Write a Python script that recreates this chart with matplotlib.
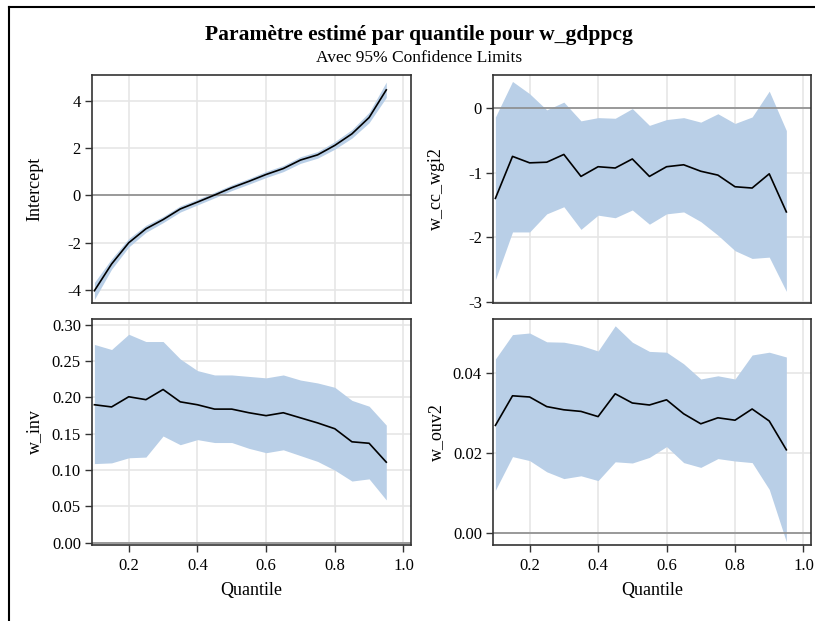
import matplotlib
matplotlib.use("Agg")
import matplotlib.pyplot as plt
from matplotlib.lines import Line2D
import numpy as np

matplotlib.rcParams['font.family'] = ['Liberation Serif', 'DejaVu Serif']

# quantiles
quantile = [0.10, 0.15, 0.20, 0.25, 0.30, 0.35, 0.40, 0.45, 0.50,
            0.55, 0.60, 0.65, 0.70, 0.75, 0.80, 0.85, 0.90, 0.95]

# Intercept
intercept = [-4.03, -2.90, -2.00, -1.41, -1.02, -0.57, -0.28, 0.02, 0.33,
             0.60, 0.89, 1.14, 1.50, 1.72, 2.12, 2.61, 3.30, 4.47]
intercept_lo = [-4.40, -3.12, -2.18, -1.56, -1.15, -0.70, -0.40, -0.10, 0.21,
                0.48, 0.76, 1.01, 1.36, 1.58, 1.96, 2.43, 3.08, 4.15]
intercept_hi = [-3.68, -2.68, -1.82, -1.26, -0.89, -0.44, -0.16, 0.14, 0.45,
                0.72, 1.02, 1.27, 1.64, 1.86, 2.28, 2.79, 3.52, 4.80]

# w_cc_wgi2
wgi = [-1.40, -0.75, -0.85, -0.84, -0.72, -1.06, -0.91, -0.93, -0.79,
       -1.06, -0.91, -0.88, -0.98, -1.04, -1.22, -1.24, -1.02, -1.61]
wgi_lo = [-2.66, -1.92, -1.92, -1.64, -1.53, -1.88, -1.66, -1.70, -1.58,
          -1.80, -1.64, -1.61, -1.76, -1.97, -2.21, -2.33, -2.31, -2.84]
wgi_hi = [-0.14, 0.41, 0.22, -0.03, 0.09, -0.20, -0.15, -0.16, -0.01,
          -0.27, -0.18, -0.15, -0.22, -0.09, -0.24, -0.14, 0.26, -0.35]

# w_inv
inv = [0.190, 0.187, 0.201, 0.197, 0.211, 0.194, 0.190, 0.184, 0.184,
       0.179, 0.175, 0.179, 0.172, 0.165, 0.157, 0.139, 0.137, 0.111]
inv_lo = [0.109, 0.110, 0.117, 0.118, 0.147, 0.135, 0.142, 0.138, 0.138,
          0.130, 0.124, 0.128, 0.120, 0.112, 0.100, 0.085, 0.088, 0.059]
inv_hi = [0.273, 0.266, 0.287, 0.277, 0.277, 0.253, 0.237, 0.231, 0.231,
          0.229, 0.227, 0.231, 0.224, 0.220, 0.214, 0.196, 0.188, 0.162]

# w_ouv2
ouv = [0.0270, 0.0344, 0.0341, 0.0317, 0.0309, 0.0305, 0.0292, 0.0349, 0.0326,
       0.0321, 0.0334, 0.0299, 0.0274, 0.0289, 0.0283, 0.0311, 0.0281, 0.0209]
ouv_lo = [0.0108, 0.0192, 0.0182, 0.0154, 0.0137, 0.0144, 0.0132, 0.0179, 0.0176,
          0.0190, 0.0217, 0.0177, 0.0165, 0.0187, 0.0181, 0.0177, 0.0110, -0.0021]
ouv_hi = [0.0436, 0.0497, 0.0501, 0.0479, 0.0478, 0.0470, 0.0456, 0.0519, 0.0478,
          0.0455, 0.0453, 0.0424, 0.0386, 0.0394, 0.0386, 0.0446, 0.0453, 0.0441]

band_col = '#b9cfe7'
W, H = 815, 621
fig = plt.figure(figsize=(W / 100, H / 100), dpi=100)


def px_axes(x0, y0, x1, y1):
    return fig.add_axes([x0 / W, 1 - y1 / H, (x1 - x0) / W, (y1 - y0) / H])


panels = [
    # (box, name, label x px, est, lo, hi, ylim, yticks, fmt, bottom)
    ((92, 75, 411, 303), 'Intercept', 43, intercept, intercept_lo, intercept_hi,
     (-4.55, 5.1), [-4, -2, 0, 2, 4], '{:g}', False),
    ((493, 75, 811, 303), 'w_cc_wgi2', 445, wgi, wgi_lo, wgi_hi,
     (-3.02, 0.51), [-3, -2, -1, 0], '{:g}', False),
    ((92, 319, 411, 545), 'w_inv', 43, inv, inv_lo, inv_hi,
     (-0.003, 0.308), [0, 0.05, 0.10, 0.15, 0.20, 0.25, 0.30], '{:.2f}', True),
    ((493, 319, 811, 545), 'w_ouv2', 445, ouv, ouv_lo, ouv_hi,
     (-0.0029, 0.0536), [0, 0.02, 0.04], '{:.2f}', True),
]

for box, name, lx, est, lo, hi, ylim, yt, fmt, bottom in panels:
    ax = px_axes(*box)
    ax.set_xlim(0.093, 1.022)
    ax.set_ylim(*ylim)
    ax.set_xticks([0.2, 0.4, 0.6, 0.8, 1.0])
    ax.set_yticks(yt)
    ax.set_yticklabels([fmt.format(v) for v in yt])
    ax.grid(True, color='#e6e6e6', lw=1.2, zorder=0)
    ax.set_axisbelow(True)
    ax.fill_between(quantile, lo, hi, color=band_col, lw=0, zorder=1)
    ax.axhline(0, color='#8c8c8c', lw=1.2, zorder=2)
    ax.plot(quantile, est, color='black', lw=1.2, zorder=3)
    for s in ax.spines.values():
        s.set_color('#333333')
        s.set_linewidth(1.2)
    ax.tick_params(axis='y', labelsize=12, length=5, width=1, color='#333333',
                   pad=3)
    if bottom:
        ax.tick_params(axis='x', labelsize=12, length=5, width=1,
                       color='#333333', pad=4)
        ax.set_xticklabels(['0.2', '0.4', '0.6', '0.8', '1.0'])
        ax.set_xlabel('Quantile', fontsize=13)
        ax.xaxis.set_label_coords(0.5, -0.165)
    else:
        ax.tick_params(axis='x', length=0, labelbottom=False)
    ax.set_ylabel(name, fontsize=13)
    ax.yaxis.set_label_coords(-(box[0] - lx) / (box[2] - box[0]), 0.5)

fig.text(419 / W, 1 - 35 / H, 'Paramètre estimé par quantile pour w_gdppcg',
         ha='center', va='center', fontsize=15.5, fontweight='bold')
fig.text(419 / W, 1 - 58 / H, 'Avec 95% Confidence Limits',
         ha='center', va='center', fontsize=12.5)

# outer frame (cropped)
fig.add_artist(Line2D([9 / W, 9 / W], [0, 1 - 7 / H], color='black', lw=1.5,
                      transform=fig.transFigure))
fig.add_artist(Line2D([9 / W, 1], [1 - 7 / H, 1 - 7 / H], color='black', lw=1.5,
                      transform=fig.transFigure))

fig.savefig('out.png', dpi=100)
